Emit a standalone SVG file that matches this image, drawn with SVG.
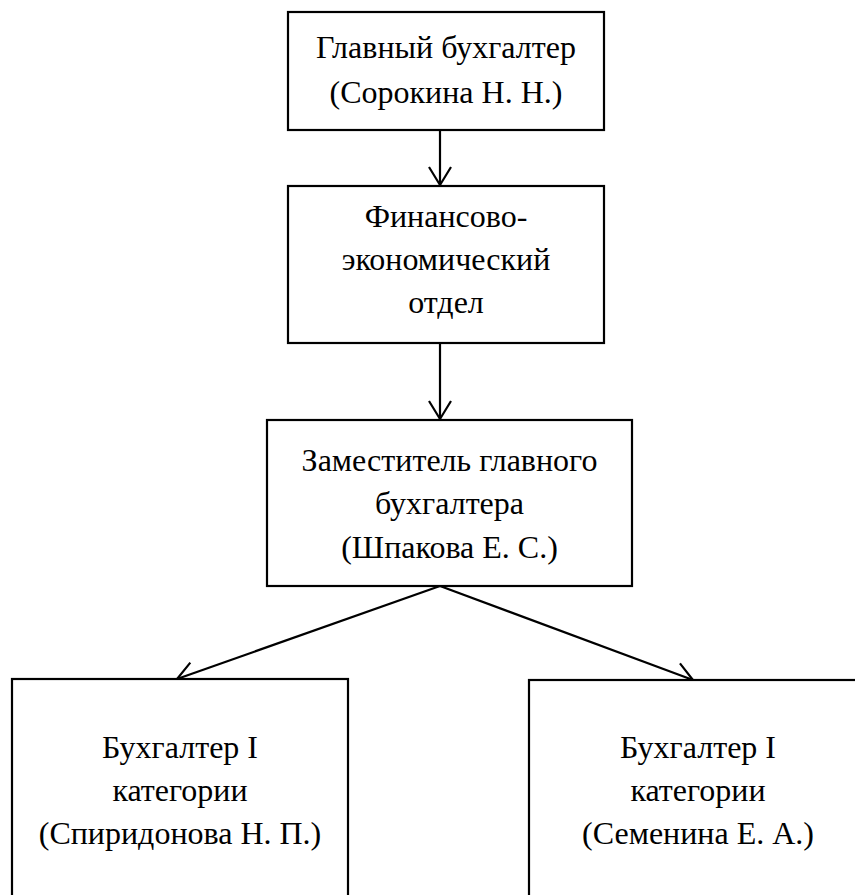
<svg xmlns="http://www.w3.org/2000/svg" width="855" height="895" viewBox="0 0 855 895">
<defs>
<style>
.box{fill:#fff;stroke:#000;stroke-width:2.2}
.lbl{font-family:"Liberation Serif","Times New Roman","DejaVu Serif",serif;font-size:32px;fill:#000;text-anchor:middle}
.conn{stroke:#000;stroke-width:2.2;fill:none}
</style>
<marker id="arr" markerUnits="userSpaceOnUse" markerWidth="24" markerHeight="28" viewBox="-20 -14 24 28" refX="0" refY="0" orient="auto" overflow="visible">
<path d="M-18,-11 L0,0 L-18,11" fill="none" stroke="#000" stroke-width="2.2"/>
</marker>
</defs>
<rect width="855" height="895" fill="#fff"/>
<g id="connectors">
<line class="conn" x1="440" y1="130" x2="440" y2="185" marker-end="url(#arr)"/>
<line class="conn" x1="440" y1="343" x2="440" y2="419" marker-end="url(#arr)"/>
<line class="conn" x1="440" y1="586" x2="177" y2="679" marker-end="url(#arr)"/>
<line class="conn" x1="440" y1="586" x2="693" y2="680" marker-end="url(#arr)"/>
</g>
<g id="node1">
<rect class="box" x="288" y="12" width="316" height="118"/>
<text class="lbl" x="446" y="58">Главный бухгалтер</text>
<text class="lbl" x="446" y="103">(Сорокина Н. Н.)</text>
</g>
<g id="node2">
<rect class="box" x="288" y="186" width="316" height="157"/>
<text class="lbl" x="446" y="227">Финансово-</text>
<text class="lbl" x="446" y="270">экономический</text>
<text class="lbl" x="446" y="313">отдел</text>
</g>
<g id="node3">
<rect class="box" x="267" y="420" width="365" height="166"/>
<text class="lbl" x="449.5" y="471">Заместитель главного</text>
<text class="lbl" x="449.5" y="514">бухгалтера</text>
<text class="lbl" x="449.5" y="558">(Шпакова Е. С.)</text>
</g>
<g id="node4">
<rect class="box" x="12" y="679" width="336" height="240"/>
<text class="lbl" x="180" y="758">Бухгалтер I</text>
<text class="lbl" x="180" y="801">категории</text>
<text class="lbl" x="180" y="844">(Спиридонова Н. П.)</text>
</g>
<g id="node5">
<rect class="box" x="529" y="680" width="340" height="240"/>
<text class="lbl" x="698" y="758">Бухгалтер I</text>
<text class="lbl" x="698" y="801">категории</text>
<text class="lbl" x="698" y="844">(Семенина Е. А.)</text>
</g>
</svg>
